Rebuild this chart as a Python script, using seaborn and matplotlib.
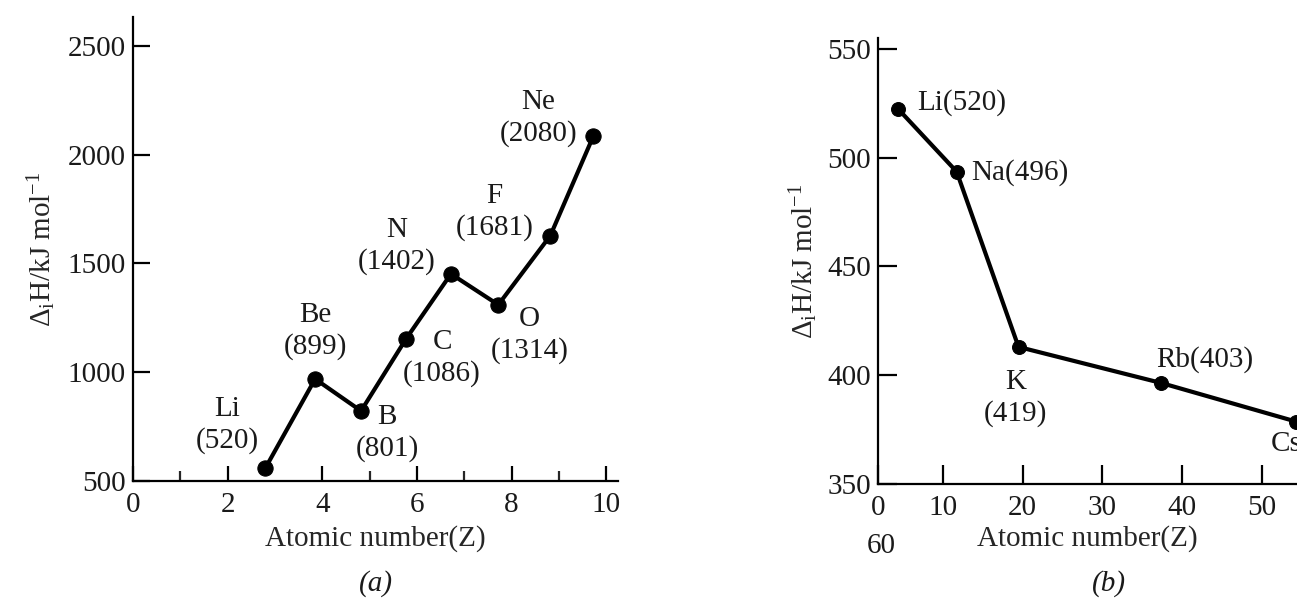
import matplotlib
matplotlib.use("Agg")
import matplotlib.pyplot as plt
import seaborn as sns

# (a) second period: where the points sit on the sketch, and the printed values
per2_symbols = ["Li", "Be", "B", "C", "N", "O", "F", "Ne"]
per2_z = [2.80, 3.85, 4.82, 5.77, 6.72, 7.72, 8.82, 9.73]
per2_dh = [560, 969, 822, 1153, 1452, 1310, 1628, 2086]
per2_text = ["520", "899", "801", "1086", "1402", "1314", "1681", "2080"]

# (b) group 1
grp1_symbols = ["Li", "Na", "K", "Rb", "Cs"]
grp1_z = [4.4, 11.75, 19.5, 37.4, 54.25]
grp1_dh = [522.4, 493.5, 412.9, 396.3, 378.6]
grp1_text = ["520", "496", "419", "403", "376"]

a_xticks = [0, 2, 4, 6, 8, 10]
a_yticks = [500, 1000, 1500, 2000, 2500]
b_xticks = [1.9, 10, 20, 30, 40, 50]
b_xticklabels = ["0", "10", "20", "30", "40", "50"]
b_yticks = [350, 400, 450, 500, 550]

sns.set_theme(style="ticks")
plt.rcParams["font.family"] = ["Liberation Serif", "DejaVu Serif"]
plt.rcParams["mathtext.fontset"] = "stix"
FS = 21

fig = plt.figure(figsize=(12.97, 6.01), dpi=100)
ax1 = fig.add_axes([0.1025, 0.1997, 0.374, 0.772])
ax2 = fig.add_axes([0.677, 0.1952, 0.323, 0.7416])

ylab = r"$\mathregular{\Delta_{i}H/kJ\ mol^{-1}}$"

for ax in (ax1, ax2):
    for s in ["top", "right"]:
        ax.spines[s].set_visible(False)
    for s in ["left", "bottom"]:
        ax.spines[s].set_linewidth(1.6)
        ax.spines[s].set_color("black")
    ax.tick_params(direction="in", width=1.6, color="black", labelsize=FS,
                   labelcolor="#1a1a1a")
    ax.set_facecolor("white")

# ---- panel (a)
sns.lineplot(x=per2_z, y=per2_dh, ax=ax1, color="black", linewidth=3,
             marker="o", markersize=11, markeredgecolor="black", sort=False,
             clip_on=False)
ax1.set_xlim(0, 10.25)
ax1.set_ylim(500, 2633)
ax1.set_xticks(a_xticks)
ax1.set_xticks([1, 5, 7, 9], minor=True)
ax1.set_yticks(a_yticks)
ax1.tick_params(axis="x", which="major", length=11, pad=8)
ax1.tick_params(axis="x", which="minor", direction="in", length=7, width=1.6)
ax1.tick_params(axis="y", length=12, pad=5)
ax1.set_xlabel("Atomic number(Z)", fontsize=FS, labelpad=5)
ax1.set_ylabel(ylab, fontsize=FS, labelpad=7)

a_offsets = [(-38, 43), (0, 48), (26, -22), (36, -19),
             (-54, 28), (31, -30), (-56, 24), (-55, 18)]
for sym, z, dh, txt, off in zip(per2_symbols, per2_z, per2_dh, per2_text, a_offsets):
    ax1.annotate(f"{sym}\n({txt})", (z, dh), xytext=off, textcoords="offset pixels",
                 ha="center", va="center", fontsize=FS, linespacing=1.25,
                 color="#1a1a1a")

fig.text(376 / 1297, 1 - 584 / 601, "(a)", fontsize=FS, style="italic",
         ha="center", va="center", color="#1a1a1a")

# ---- panel (b)
sns.lineplot(x=grp1_z, y=grp1_dh, ax=ax2, color="black", linewidth=3,
             marker="o", markersize=10, markeredgecolor="black", sort=False,
             clip_on=False)
ax2.set_xlim(1.9, 54.4)
ax2.set_ylim(350, 555)
ax2.set_xticks(b_xticks)
ax2.set_xticklabels(b_xticklabels)
ax2.set_yticks(b_yticks)
ax2.tick_params(axis="x", length=14, pad=8)
ax2.tick_params(axis="y", length=14, pad=5)
ax2.set_xlabel("Atomic number(Z)", fontsize=FS, labelpad=3)
ax2.set_ylabel(ylab, fontsize=FS, labelpad=5)

b_offsets = [(19, 6), (15, -1), (-3, -51), (-5, 23), (-25, -22)]
for sym, z, dh, txt, off in zip(grp1_symbols, grp1_z, grp1_dh, grp1_text, b_offsets):
    if sym == "K":
        ax2.annotate(f"{sym}\n({txt})", (z, dh), xytext=off, textcoords="offset pixels",
                     ha="center", va="center", fontsize=FS, linespacing=1.25,
                     color="#1a1a1a")
    else:
        ax2.annotate(f"{sym}({txt})", (z, dh), xytext=off, textcoords="offset pixels",
                     ha="left", va="center", fontsize=FS, color="#1a1a1a",
                     annotation_clip=False)

fig.text(881 / 1297, 1 - 546 / 601, "60", fontsize=FS, ha="center", va="center",
         color="#1a1a1a")
fig.text(1109 / 1297, 1 - 584 / 601, "(b)", fontsize=FS, style="italic",
         ha="center", va="center", color="#1a1a1a")

fig.savefig("out.png", dpi=100, facecolor="white")
